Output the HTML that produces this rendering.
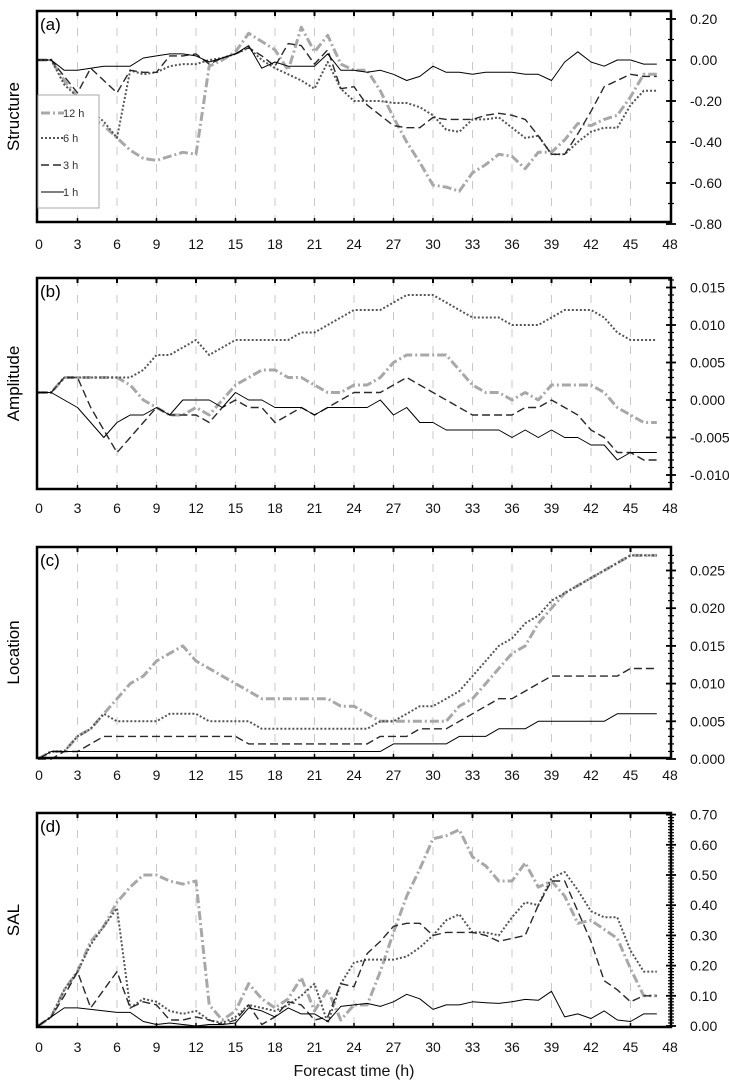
<!DOCTYPE html>
<html><head><meta charset="utf-8">
<style>
html,body{margin:0;padding:0;background:#fff;}
svg{display:block;font-family:"Liberation Sans",Arial,sans-serif;}
</style></head>
<body>
<svg id="chart" width="729" height="1085" viewBox="0 0 729 1085" xmlns="http://www.w3.org/2000/svg"></svg>
<script>
const hours = Array.from({length:48},(_,i)=>i);
const xTicks = [0,3,6,9,12,15,18,21,24,27,30,33,36,39,42,45,48];
const seriesNames = ["12 h","6 h","3 h","1 h"];

const structure12 = [0,0,-0.10,-0.18,-0.28,-0.32,-0.38,-0.44,-0.48,-0.49,-0.47,-0.45,-0.46,-0.03,0.0,0.04,0.13,0.09,0.05,-0.05,0.16,0.04,0.12,-0.02,-0.05,-0.05,-0.15,-0.28,-0.40,-0.50,-0.61,-0.62,-0.64,-0.55,-0.51,-0.46,-0.47,-0.53,-0.45,-0.45,-0.39,-0.31,-0.32,-0.29,-0.27,-0.18,-0.07,-0.07];
const structure6 = [0,0,-0.12,-0.18,-0.25,-0.30,-0.38,-0.05,-0.07,-0.06,-0.03,-0.02,-0.02,0.0,0.01,0.03,0.06,0.0,-0.04,-0.07,-0.10,-0.14,-0.01,-0.14,-0.20,-0.20,-0.20,-0.21,-0.21,-0.23,-0.27,-0.34,-0.35,-0.29,-0.29,-0.28,-0.33,-0.38,-0.37,-0.46,-0.46,-0.40,-0.35,-0.33,-0.33,-0.22,-0.15,-0.15];
const structure3 = [0,0,-0.08,-0.16,-0.04,-0.10,-0.16,-0.05,-0.06,-0.06,0.02,0.02,0.03,-0.02,0.01,0.03,0.06,0.02,-0.03,0.08,0.07,-0.02,0.05,-0.14,-0.13,-0.22,-0.27,-0.32,-0.33,-0.33,-0.28,-0.29,-0.29,-0.29,-0.27,-0.26,-0.27,-0.29,-0.37,-0.46,-0.46,-0.36,-0.25,-0.13,-0.10,-0.07,-0.08,-0.08];
const structure1 = [0,0,-0.05,-0.05,-0.04,-0.03,-0.03,-0.03,0.01,0.02,0.03,0.03,0.02,-0.01,0.01,0.03,0.07,-0.04,-0.01,-0.03,-0.03,-0.03,0.03,-0.05,-0.05,-0.06,-0.05,-0.07,-0.10,-0.08,-0.03,-0.06,-0.06,-0.07,-0.06,-0.06,-0.06,-0.07,-0.07,-0.10,-0.01,0.04,-0.01,-0.03,0.0,0.0,-0.02,-0.02];

const amplitude12 = [0.001,0.001,0.003,0.003,0.003,0.003,0.003,0.002,0.0,-0.001,-0.002,-0.002,-0.001,-0.002,0.0,0.002,0.003,0.004,0.004,0.003,0.003,0.002,0.001,0.001,0.002,0.002,0.003,0.005,0.006,0.006,0.006,0.006,0.004,0.002,0.001,0.001,0.0,0.001,0.0,0.002,0.002,0.002,0.002,0.001,-0.001,-0.002,-0.003,-0.003];
const amplitude6 = [0.001,0.001,0.003,0.003,0.003,0.003,0.003,0.003,0.004,0.006,0.006,0.007,0.008,0.006,0.007,0.008,0.008,0.008,0.008,0.008,0.009,0.009,0.010,0.011,0.012,0.012,0.012,0.013,0.014,0.014,0.014,0.013,0.012,0.011,0.011,0.011,0.010,0.010,0.010,0.011,0.012,0.012,0.012,0.011,0.009,0.008,0.008,0.008];
const amplitude3 = [0.001,0.001,0.003,0.003,-0.001,-0.004,-0.007,-0.005,-0.003,-0.001,-0.002,-0.002,-0.002,-0.003,-0.001,0.0,-0.001,-0.001,-0.003,-0.002,-0.001,-0.002,-0.001,0.0,0.001,0.001,0.001,0.002,0.003,0.002,0.001,0.0,-0.001,-0.002,-0.002,-0.002,-0.002,-0.001,-0.001,0.0,-0.001,-0.002,-0.004,-0.005,-0.007,-0.007,-0.008,-0.008];
const amplitude1 = [0.001,0.001,0.0,-0.001,-0.003,-0.005,-0.003,-0.002,-0.002,-0.001,-0.002,0.0,0.0,0.0,-0.001,0.001,0.0,0.0,-0.001,-0.001,-0.001,-0.002,-0.001,-0.001,-0.001,-0.001,0.0,-0.002,-0.001,-0.003,-0.003,-0.004,-0.004,-0.004,-0.004,-0.004,-0.005,-0.004,-0.005,-0.004,-0.005,-0.005,-0.006,-0.006,-0.008,-0.007,-0.007,-0.007];

const location12 = [0,0.001,0.001,0.003,0.004,0.006,0.008,0.010,0.011,0.013,0.014,0.015,0.013,0.012,0.011,0.010,0.009,0.008,0.008,0.008,0.008,0.008,0.008,0.007,0.007,0.006,0.005,0.005,0.005,0.005,0.005,0.005,0.007,0.008,0.010,0.012,0.014,0.015,0.018,0.020,0.022,0.023,0.024,0.025,0.026,0.027,0.027,0.027];
const location6 = [0,0.001,0.001,0.003,0.004,0.006,0.005,0.005,0.005,0.005,0.006,0.006,0.006,0.005,0.005,0.005,0.005,0.004,0.004,0.004,0.004,0.004,0.004,0.004,0.004,0.004,0.005,0.005,0.006,0.007,0.007,0.008,0.009,0.011,0.013,0.015,0.016,0.018,0.019,0.021,0.022,0.023,0.024,0.025,0.026,0.027,0.027,0.027];
const location3 = [0,0,0.001,0.001,0.002,0.003,0.003,0.003,0.003,0.003,0.003,0.003,0.003,0.003,0.003,0.003,0.002,0.002,0.002,0.002,0.002,0.002,0.002,0.002,0.002,0.002,0.003,0.003,0.003,0.004,0.004,0.004,0.005,0.006,0.007,0.008,0.008,0.009,0.010,0.011,0.011,0.011,0.011,0.011,0.011,0.012,0.012,0.012];
const location1 = [0,0.001,0.001,0.001,0.001,0.001,0.001,0.001,0.001,0.001,0.001,0.001,0.001,0.001,0.001,0.001,0.001,0.001,0.001,0.001,0.001,0.001,0.001,0.001,0.001,0.001,0.001,0.002,0.002,0.002,0.002,0.002,0.003,0.003,0.003,0.004,0.004,0.004,0.005,0.005,0.005,0.005,0.005,0.005,0.006,0.006,0.006,0.006];

const sal12 = [0,0.03,0.12,0.18,0.28,0.33,0.41,0.46,0.50,0.50,0.48,0.47,0.48,0.07,0.02,0.05,0.14,0.09,0.06,0.09,0.16,0.05,0.12,0.02,0.07,0.07,0.18,0.31,0.43,0.52,0.62,0.63,0.65,0.56,0.53,0.48,0.48,0.54,0.46,0.48,0.43,0.34,0.35,0.32,0.29,0.19,0.10,0.10];
const sal6 = [0,0.03,0.12,0.18,0.27,0.33,0.39,0.06,0.09,0.08,0.05,0.04,0.05,0.02,0.01,0.03,0.07,0.06,0.05,0.07,0.10,0.14,0.01,0.14,0.21,0.22,0.22,0.22,0.23,0.26,0.30,0.35,0.37,0.31,0.31,0.30,0.36,0.41,0.40,0.49,0.51,0.45,0.38,0.36,0.36,0.25,0.18,0.18];
const sal3 = [0,0.03,0.10,0.18,0.06,0.12,0.18,0.06,0.08,0.07,0.02,0.02,0.03,0.02,0.005,0.02,0.07,0.005,0.03,0.08,0.07,0.02,0.03,0.14,0.13,0.24,0.28,0.33,0.34,0.34,0.30,0.31,0.31,0.31,0.30,0.28,0.29,0.30,0.40,0.48,0.48,0.38,0.28,0.15,0.12,0.08,0.10,0.10];
const sal1 = [0,0.03,0.06,0.06,0.055,0.05,0.045,0.045,0.015,0.005,0.01,0.005,0.0,0.005,0.005,0.01,0.06,0.05,0.03,0.06,0.04,0.04,0.015,0.065,0.07,0.075,0.065,0.08,0.105,0.09,0.055,0.07,0.07,0.08,0.077,0.075,0.08,0.088,0.085,0.115,0.03,0.04,0.025,0.05,0.02,0.015,0.04,0.04];

const structureTicks = ["0.20","0.00","-0.20","-0.40","-0.60","-0.80"];
const amplitudeTicks = ["0.015","0.010","0.005","0.000","-0.005","-0.010"];
const locationTicks = ["0.025","0.020","0.015","0.010","0.005","0.000"];
const salTicks = ["0.70","0.60","0.50","0.40","0.30","0.20","0.10","0.00"];

const NS="http://www.w3.org/2000/svg";
const svg=document.getElementById('chart');
function mk(tag,attrs,parent){const e=document.createElementNS(NS,tag);for(const k in attrs)e.setAttribute(k,attrs[k]);(parent||svg).appendChild(e);return e;}

const X0=37, X1=671;
function xScale(t){return 38+t*(632/48);}

const styles=[
 {stroke:"#a8a8a8",w:3,dash:"9 3 2 3"},
 {stroke:"#555",w:2,dash:"2 2"},
 {stroke:"#2a2a2a",w:1.4,dash:"8 4"},
 {stroke:"#000",w:1,dash:""}
];

const panels=[
 {id:"structure",letter:"(a)",title:"Structure",top:11,bottom:222,v0:0,p0:60,slope:205,ticks:structureTicks,minor:0.1,vmin:-0.8,vmax:0.2,series:[structure12,structure6,structure3,structure1],labelY:249},
 {id:"amplitude",letter:"(b)",title:"Amplitude",top:278,bottom:489,v0:0,p0:400,slope:7500,ticks:amplitudeTicks,minor:0.001,vmin:-0.011,vmax:0.016,series:[amplitude12,amplitude6,amplitude3,amplitude1],labelY:513},
 {id:"location",letter:"(c)",title:"Location",top:547,bottom:758,v0:0,p0:759,slope:7540,ticks:locationTicks,minor:0.001,vmin:0,vmax:0.027,series:[location12,location6,location3,location1],labelY:780},
 {id:"sal",letter:"(d)",title:"SAL",top:813,bottom:1027,v0:0,p0:1026,slope:302,ticks:salTicks,minor:0.01,vmin:0,vmax:0.7,series:[sal12,sal6,sal3,sal1],labelY:1052}
];

panels.forEach(p=>{
 const g=mk('g',{});
 
 
 const yS=v=>p.p0-(v-p.v0)*p.slope;
 xTicks.slice(1,-1).forEach(t=>{
  const l=mk('line',{x1:xScale(t),x2:xScale(t),y1:p.top,y2:p.bottom,stroke:"#c8c8c8","stroke-width":1,"stroke-dasharray":"8 9"},g);
  
  
 });
 p.series.forEach((arr,si)=>{
  const st=styles[si];
  const d=arr.map((v,i)=>(i?'L':'M')+xScale(hours[i]).toFixed(1)+' '+yS(v).toFixed(1)).join(' ');
  const path=mk('path',{d:d,fill:"none",stroke:st.stroke,"stroke-width":st.w,"stroke-dasharray":st.dash,"stroke-linejoin":"round"},g);
  
  
 });
 const fr=mk('rect',{x:X0,y:p.top,width:X1-X0,height:p.bottom-p.top,fill:"none",stroke:"#000","stroke-width":2.5},g);
 
 
 xTicks.forEach(t=>{
  if(t>0&&t<48){
   mk('line',{x1:xScale(t),x2:xScale(t),y1:p.top,y2:p.top+5,stroke:"#000","stroke-width":2},g);
   mk('line',{x1:xScale(t),x2:xScale(t),y1:p.bottom,y2:p.bottom-4,stroke:"#000","stroke-width":1.5},g);
  }
  const tx=mk('text',{x:xScale(t)+(t===0?1:0),y:p.labelY,"font-size":14,"text-anchor":"middle",fill:"#111"},g);
  tx.textContent=t;
  
  
 });
 const n=Math.round((p.vmax-p.vmin)/p.minor);
 for(let k=0;k<=n;k++){
  const v=p.vmin+k*p.minor;const y=yS(v);
  if(y<p.top+1||y>p.bottom-1)continue;
  mk('line',{x1:X1-3,x2:X1+3,y1:y,y2:y,stroke:"#000","stroke-width":1.2},g);
 }
 p.ticks.forEach(s=>{
  const v=parseFloat(s);let y=yS(v);
  mk('line',{x1:X1-5,x2:X1+5,y1:y,y2:y,stroke:"#000","stroke-width":1.8},g);
  const tx=mk('text',{x:690,y:y+5,"font-size":14,fill:"#111"},g);
  tx.textContent=s;
  
  
 });
 const lt=mk('text',{x:40,y:p.top+19,"font-size":17,fill:"#000"},g);
 lt.textContent=p.letter;
 
 
 const cy=(p.top+p.bottom)/2;
 const yt=mk('text',{x:19,y:cy,"font-size":17,"text-anchor":"middle",transform:`rotate(-90 19 ${cy})`,fill:"#000"},g);
 yt.textContent=p.title;
 
 
});

const lg=mk('g',{});


mk('rect',{x:38,y:95,width:61,height:113,fill:"#fff",stroke:"#aaa","stroke-width":1},lg);
const legY=[113,138,165,192];
seriesNames.forEach((nm,i)=>{
 const st=styles[i];
 const e=mk('g',{},lg);
 
 
 mk('line',{x1:41,x2:64,y1:legY[i],y2:legY[i],stroke:st.stroke,"stroke-width":st.w,"stroke-dasharray":st.dash},e);
 const t=mk('text',{x:63,y:legY[i]+4,"font-size":11,fill:"#333"},e);
 t.textContent=nm;
});

const xt=mk('text',{x:354,y:1076,"font-size":16,"text-anchor":"middle",fill:"#111"});
xt.textContent="Forecast time (h)";


</script>
</body></html>
